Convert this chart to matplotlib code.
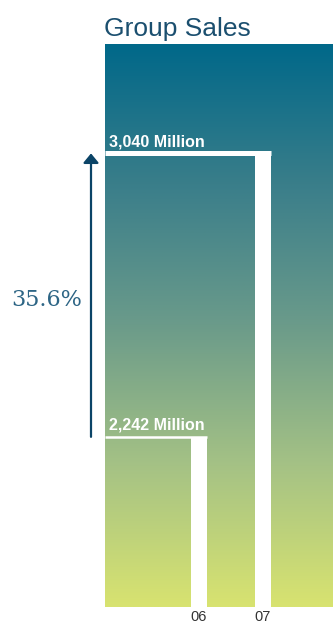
import numpy as np
import matplotlib.pyplot as plt
from matplotlib.colors import LinearSegmentedColormap

# dados
years = ["06", "07"]
sales = [2242, 3040]          # milhoes
growth_label = "35.6%"
title = "Group Sales"

# figura 333x625 px
fig = plt.figure(figsize=(3.33, 6.25), dpi=100)
ax = fig.add_axes([105 / 333, 1 - 607 / 625, 228 / 333, 563 / 625])

# fundo em degradê (azul petróleo -> amarelo)
cmap = LinearSegmentedColormap.from_list(
    "grad", ["#006889", "#3a7e8a", "#6b9b8a", "#a5c285", "#d8e370"])
grad = np.linspace(0, 1, 256).reshape(-1, 1)
ax.imshow(grad, cmap=cmap, aspect="auto", extent=[0, 1, 0, 1],
          transform=ax.transAxes, zorder=0)

x = np.arange(len(years))
ylo, yhi = 1763, 3348
xlo, xhi = -1.469, 2.094
ax.set_xlim(xlo, xhi)
ax.set_ylim(ylo, yhi)

# barras em branco: faixa vertical + linha do topo
bw = 0.25
ax.bar(x, [v - ylo for v in sales], bottom=ylo, width=bw,
       color="white", zorder=2)
ax.hlines(sales, xlo, x + bw / 2, colors="white", linewidth=[1.8, 3.6], zorder=2)

for xi, v in zip(x, sales):
    ax.annotate(f"{v:,} Million", xy=(0, v), xycoords=ax.get_yaxis_transform(),
                xytext=(3, 3), textcoords="offset points", ha="left", va="bottom",
                color="white", fontsize=11.5, fontweight="bold",
                family="Liberation Sans", zorder=3)

# seta de crescimento
ax.annotate("", xy=(-14 / 228, sales[1]), xytext=(-14 / 228, sales[0]),
            xycoords=ax.get_yaxis_transform(), annotation_clip=False,
            arrowprops=dict(arrowstyle="-|>,head_length=0.4,head_width=0.33",
                            mutation_scale=14, color="#0b4467", lw=1.6,
                            shrinkA=0, shrinkB=0))
ax.text(-58 / 228, 0.5 * (sales[0] + sales[1]) - 15, growth_label,
        transform=ax.get_yaxis_transform(), ha="center", va="center",
        fontsize=16, color="#2d6585", family="DejaVu Serif")

# titulo
fig.text(104 / 333, 1 - 36 / 625, title, ha="left", va="baseline",
         fontsize=19, color="#1b4f6f", family="Liberation Sans")

ax.set_xticks(x, years)
ax.set_yticks([])
ax.tick_params(axis="x", length=0, pad=2, labelsize=10.5, labelcolor="#333333")
for lbl in ax.get_xticklabels():
    lbl.set_family("Liberation Sans")
for s in ax.spines.values():
    s.set_visible(False)

fig.savefig("out.png", dpi=100)
